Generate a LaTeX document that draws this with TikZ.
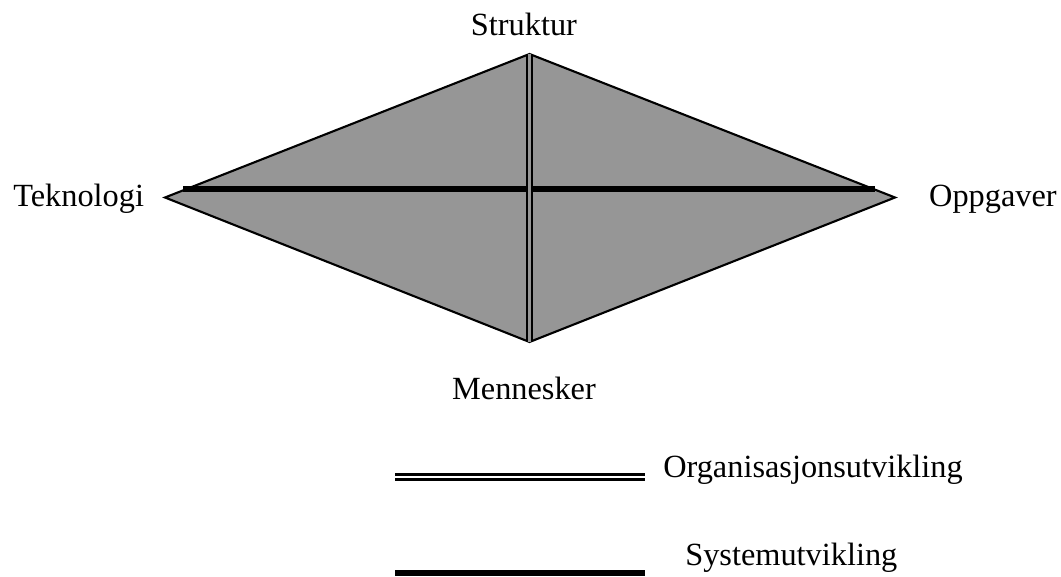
\documentclass[tikz,border=0pt]{standalone}
\usepackage{fontspec}
\setmainfont{Liberation Serif}
\usepackage{tikz}
\usetikzlibrary{positioning}
\definecolor{dgray}{RGB}{150, 150, 150}
\tikzset{lbl/.style = {inner sep=0pt, font=\fontsize{23}{27}\selectfont},
         orgline/.style = {line width=1.8pt, double distance=1.8pt},
         sysline/.style = {line width=4.3pt}}

\begin{document}
\begin{tikzpicture}[x=0.025cm, y=-0.025cm]
    \useasboundingbox (0, 0) rectangle (1061, 577);

    % hjoerner
    \coordinate (top) at (529.5, 54);
    \coordinate (tek) at (165, 197.5);
    \coordinate (opp) at (895, 197.5);
    \coordinate (bot) at (529.5, 342);
    \coordinate (hl) at (183, 189);
    \coordinate (hr) at (875, 189);

    \draw [line width=1.5pt, line join=miter, fill=dgray] (top) -- (opp) -- (bot) -- (tek) -- cycle;
    \draw [sysline, line width=3.7pt] (hl) -- (hr);
    \draw [line width=1.6pt, double=dgray, double distance=2.2pt] (top) -- (bot);

    \node [lbl, anchor=base] (struktur) at (524, 36) {Struktur};
    \node [lbl, anchor=base west] (teknologi) at (13, 207) {Teknologi};
    \node [lbl, anchor=base east] (oppgaver) at (1057, 207) {Oppgaver};
    \node [lbl, anchor=base] (mennesker) at (524, 400) {Mennesker};

    % forklaring
    \coordinate (o1) at (395, 477);
    \coordinate (o2) at (645, 477);
    \coordinate (s1) at (395, 573);
    \coordinate (s2) at (645, 573);
    \draw [orgline, double=white] (o1) -- (o2);
    \draw [sysline] (s1) -- (s2);
    \node [lbl, anchor=base west] (org) at (663, 477) {Organisasjonsutvikling};
    \node [lbl, anchor=base west] (sys) at (685, 565) {Systemutvikling};
\end{tikzpicture}
\end{document}
